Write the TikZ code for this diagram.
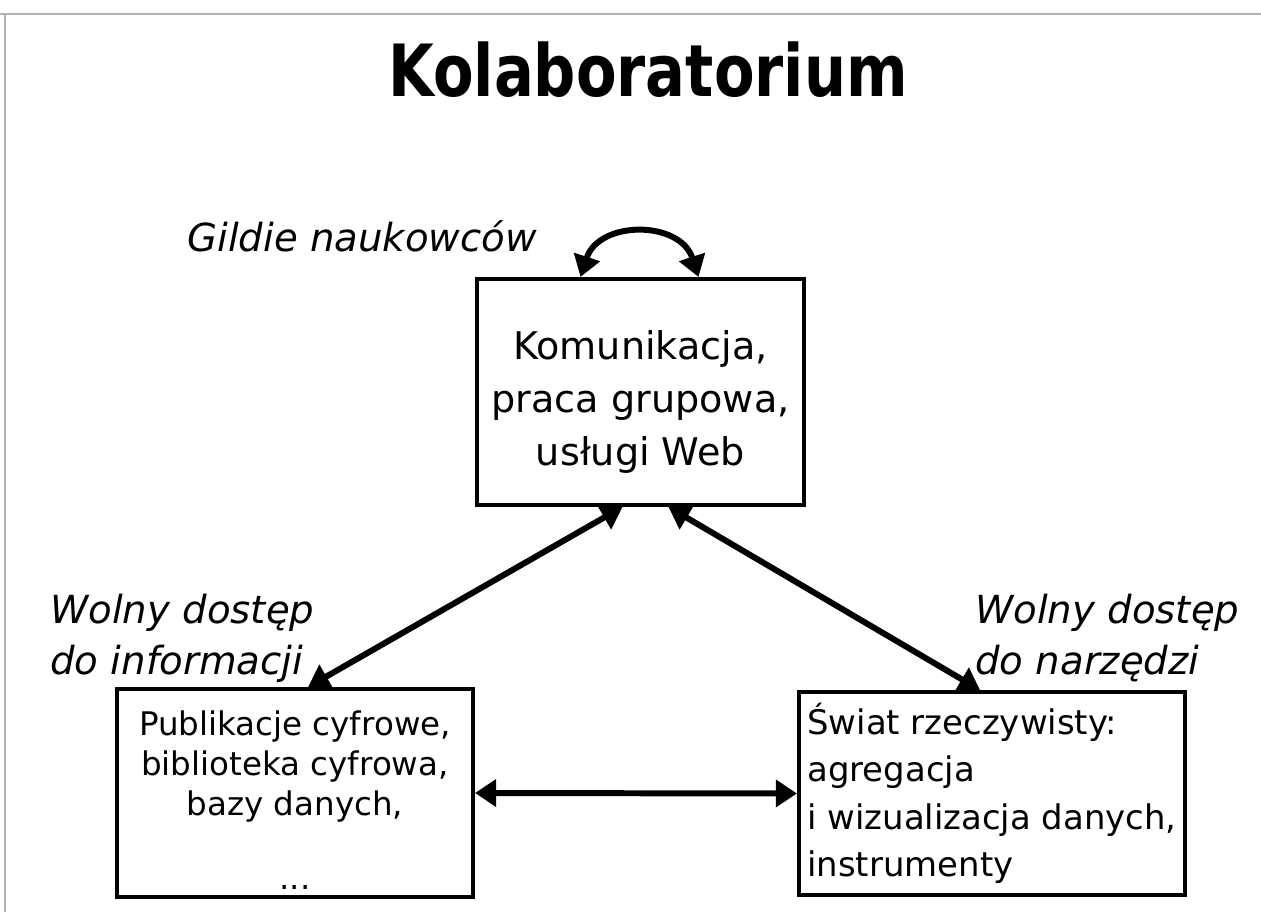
\documentclass[tikz,border=0pt]{standalone}
\usepackage{fontspec}
\setmainfont{DejaVu Sans}[ItalicFont={DejaVu Sans Oblique},BoldFont={DejaVu Sans Bold}]
\newfontfamily\titlefont[FakeStretch=0.82]{DejaVu Sans Bold}
\usetikzlibrary{arrows.meta,calc}

\tikzset{
  box/.style={draw, line width=2.3pt, inner sep=0pt, align=center},
  tag/.style={font=\fontsize{22}{28.5}\selectfont\itshape, align=left, inner sep=0pt, anchor=base west},
  link/.style={line width=3.4pt, {Triangle[length=12pt,width=15pt]}-{Triangle[length=12pt,width=15pt]}},
}

\begin{document}
\begin{tikzpicture}[x=0.02cm, y=-0.02cm]
  \useasboundingbox (0,0) rectangle (1261,912);
  % page frame
  \draw[gray!60, line width=0.6pt] (0,14) -- (1261,14);
  \draw[gray!60, line width=0.6pt] (5,14) -- (5,912);

  \node[anchor=base, font=\titlefont\fontsize{41}{48}\selectfont] (title) at (648,97) {Kolaboratorium};

  % boxes
  \node[box, minimum width=6.54cm, minimum height=4.52cm, font=\fontsize{21.7}{30}\selectfont] (comm) at (640.5,392)
    {\rule{0pt}{28pt}Komunikacja,\\ praca grupowa,\\ usługi Web};
  \node[box, minimum width=7.12cm, minimum height=4.16cm, font=\fontsize{18.5}{23}\selectfont] (info) at (295,793)
    {\rule{0pt}{22pt}Publikacje cyfrowe,\\ biblioteka cyfrowa,\\ bazy danych,\\[19pt] ...};
  \node[box, align=left, minimum width=7.72cm, minimum height=4.06cm, font=\fontsize{19.3}{27}\selectfont] (real) at (992,793.5)
    {Świat rzeczywisty:\\ agregacja\\ i wizualizacja danych,\\ instrumenty};

  % labels
  \node[tag] (guild) at (187,252) {Gildie naukowców};
  \node[tag] (accinfo) at (50,674) {Wolny dostęp\\ do informacji};
  \node[tag] (acctool) at (975,674) {Wolny dostęp\\ do narzędzi};

  % connectors
  \draw[link] ($(comm.north)+(-60,0)$) to[out=72, in=108, looseness=1.3] ($(comm.north)+(58,0)$);
  \draw[link] ($(info.north)+(13,0)$) -- ($(comm.south)+(-18,0)$);
  \draw[link] ($(real.north)+(-12,0)$) -- ($(comm.south)+(28,0)$);
  \draw[link] (info.east) -- (real.west);
\end{tikzpicture}
\end{document}
